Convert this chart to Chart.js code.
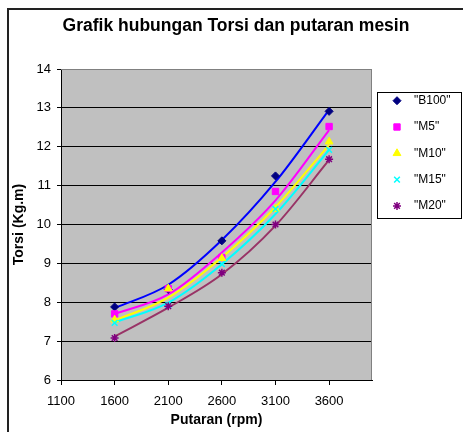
<!DOCTYPE html>
<html>
<head>
<meta charset="utf-8">
<script src="https://cdn.jsdelivr.net/npm/chart.js@4.4.1/dist/chart.umd.min.js"></script>
<style>
  html, body { margin:0; padding:0; background:#fff; }
  #wrap { position:relative; width:463px; height:432px; overflow:hidden; }
  #frame { position:absolute; left:7px; top:8px; width:600px; height:600px; border:2px solid #222; box-sizing:border-box; }
  #chartCanvas { position:absolute; left:0; top:0; }
</style>
</head>
<body>
<div id="wrap">
  <div id="frame"></div>
  <canvas id="chartCanvas" width="463" height="432"></canvas>
</div>
<script>
// ---------------- 資料 ----------------
const rpm = [1600, 2100, 2600, 3100, 3600];
const xTicks = [1100, 1600, 2100, 2600, 3100, 3600];
const seriesNames = ['"B100"', '"M5"', '"M10"', '"M15"', '"M20"'];

// measured points
const torsiB100 = [7.88, 8.33, 9.58, 11.25, 12.91];
const torsiM5   = [7.70, 8.35, 9.15, 10.85, 12.52];
const torsiM10  = [7.55, 8.35, 9.13, 10.40, 12.13];
const torsiM15  = [7.47, 7.92, 8.98, 10.40, 11.92];
const torsiM20  = [7.08, 7.90, 8.76, 10.00, 11.68];

// trendline values
const trendB100 = [7.85, 8.45, 9.60, 11.10, 12.95];
const trendM5   = [7.70, 8.20, 9.28, 10.62, 12.43];
const trendM10  = [7.53, 8.12, 9.15, 10.45, 12.05];
const trendM15  = [7.48, 7.99, 8.98, 10.27, 11.92];
const trendM20  = [7.12, 7.86, 8.72, 9.97, 11.66];

const pointValues = [torsiB100, torsiM5, torsiM10, torsiM15, torsiM20];
const trendValues = [trendB100, trendM5, trendM10, trendM15, trendM20];

// ---------------- 樣式 ----------------
const FONT = 'Arial, "Liberation Sans", sans-serif';
const markerColors = ['#000080', '#FF00FF', '#FFFF00', '#00FFFF', '#800080'];
const lineColors   = ['#0000FF', '#FF00FF', '#FFFF00', '#00FFFF', '#993366'];
const markerStyles = ['rectRot', 'rect', 'triangle', 'crossRot', 'star'];
const markerSizes  = [4, 4.5, 4.5, 4, 4];

Chart.defaults.font.family = FONT;
Chart.defaults.color = '#000';

const toXY = vals => vals.map((v, i) => ({ x: rpm[i], y: v }));

const pointSets = seriesNames.map((name, i) => ({
  label: name,
  data: toXY(pointValues[i]),
  showLine: false,
  pointStyle: markerStyles[i],
  pointRadius: markerSizes[i],
  pointBackgroundColor: markerColors[i],
  pointBorderColor: markerColors[i],
  pointBorderWidth: i >= 3 ? 1.5 : 1,
  order: 5 - i
}));

const trendSets = seriesNames.map((name, i) => ({
  label: name + ' trend',
  data: toXY(trendValues[i]),
  showLine: true,
  borderColor: lineColors[i],
  borderWidth: 2,
  pointRadius: 0,
  cubicInterpolationMode: 'monotone',
  order: 20 - i
}));

// ---------------- 外掛 ----------------
const plotBg = {
  id: 'plotBg',
  beforeDraw(chart) {
    const { ctx, chartArea: a } = chart;
    ctx.save();
    ctx.fillStyle = '#C0C0C0';
    ctx.fillRect(a.left, a.top, a.right - a.left, a.bottom - a.top);
    ctx.restore();
  },
  afterDraw(chart) {
    const { ctx, chartArea: a } = chart;
    ctx.save();
    ctx.strokeStyle = '#808080';
    ctx.lineWidth = 1;
    ctx.beginPath();
    ctx.moveTo(a.left, a.top + 0.5);
    ctx.lineTo(a.right - 0.5, a.top + 0.5);
    ctx.lineTo(a.right - 0.5, a.bottom);
    ctx.stroke();
    ctx.restore();
  }
};

const legendBox = {
  id: 'legendBox',
  afterDraw(chart) {
    const ctx = chart.ctx;
    ctx.save();
    ctx.fillStyle = '#fff';
    ctx.strokeStyle = '#000';
    ctx.lineWidth = 1;
    ctx.fillRect(377.5, 92.5, 84, 126);
    ctx.strokeRect(377.5, 92.5, 84, 126);
    pointSets.forEach((ds, i) => {
      const y = 100.7 + i * 26.3;
      ctx.fillStyle = ds.pointBackgroundColor;
      ctx.strokeStyle = ds.pointBorderColor;
      ctx.lineWidth = ds.pointBorderWidth;
      Chart.helpers.drawPoint(ctx, {
        pointStyle: ds.pointStyle, radius: ds.pointRadius, rotation: 0, borderWidth: ds.pointBorderWidth
      }, 397, y);
      ctx.fillStyle = '#000';
      ctx.font = '12px ' + FONT;
      ctx.textBaseline = 'middle';
      ctx.textAlign = 'left';
      ctx.fillText(ds.label, 414, y);
    });
    ctx.restore();
  }
};

// ---------------- Chart.js ----------------
const ctx = document.getElementById('chartCanvas').getContext('2d');
const chart = new Chart(ctx, {
  type: 'scatter',
  data: { datasets: [...pointSets, ...trendSets] },
  plugins: [plotBg, legendBox],
  options: {
    responsive: false,
    animation: false,
    devicePixelRatio: 1,
    layout: { padding: { left: 9, right: 0, top: 0, bottom: 0 } },
    plugins: {
      legend: { display: false },
      tooltip: { enabled: false },
      title: {
        display: true,
        text: 'Grafik hubungan Torsi dan putaran mesin',
        color: '#000',
        font: { size: 17.5, weight: 'bold', family: FONT },
        padding: { top: 16, bottom: 32 }
      }
    },
    scales: {
      x: {
        type: 'linear',
        position: 'bottom',
        min: 1100,
        max: 4000,
        afterBuildTicks: s => { s.ticks = xTicks.map(v => ({ value: v })); },
        afterFit: s => { s.height = 52; },
        ticks: {
          font: { size: 13 }, color: '#000', padding: 9, maxRotation: 0, autoSkip: false,
          callback: v => String(v)
        },
        grid: { drawOnChartArea: false, drawTicks: true, tickLength: 5, tickColor: '#000' },
        border: { color: '#000', width: 1 },
        title: {
          display: true, text: 'Putaran (rpm)', color: '#000',
          font: { size: 14, weight: 'bold' }, padding: { top: 0, bottom: 3 }
        }
      },
      y: {
        min: 6,
        max: 14,
        afterFit: s => { s.width = 52; },
        ticks: { stepSize: 1, font: { size: 13 }, color: '#000', padding: 6, callback: v => String(v) },
        grid: {
          color: c => (c.tick && c.tick.value === 14 ? '#808080' : '#000'),
          tickColor: '#000', tickLength: 4, lineWidth: 1
        },
        border: { color: '#000', width: 1 },
        title: {
          display: true, text: 'Torsi (Kg.m)', color: '#000',
          font: { size: 14, weight: 'bold' }, padding: { top: 2, bottom: 0 }
        }
      },
      y2: {
        position: 'right',
        afterFit: s => { s.width = 91; },
        ticks: { display: false },
        grid: { display: false },
        border: { display: false }
      }
    }
  }
});
</script>
</body>
</html>
